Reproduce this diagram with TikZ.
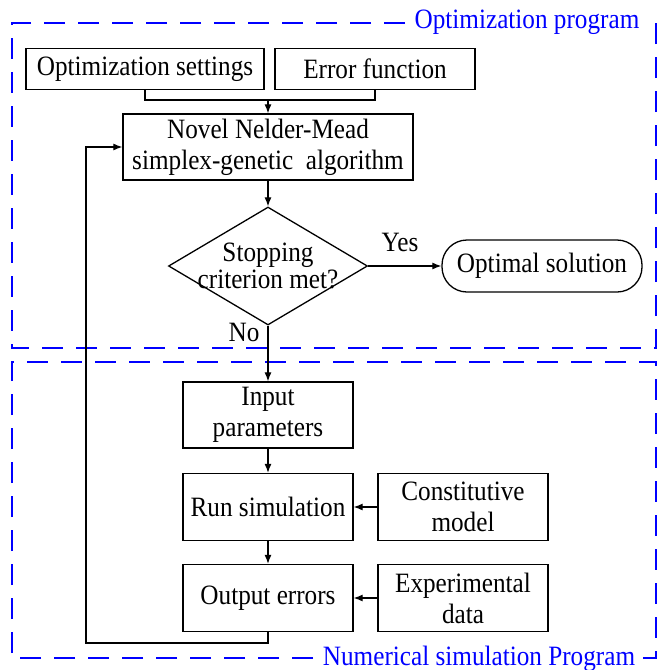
\documentclass[tikz,border=0pt]{standalone}
\usepackage{fontspec}
\setmainfont[FakeStretch=0.9]{Liberation Serif}
\usetikzlibrary{arrows.meta,shapes.geometric}
\tikzset{
  blk/.style={draw, line width=1.3pt, align=center, inner sep=2pt},
  frame/.style={blue, line width=2.8pt, dash pattern=on 21pt off 13pt},
  lnk/.style={line width=1.2pt, -{Latex[length=9pt,width=7pt]}},
  ln/.style={line width=1.2pt}
}

\begin{document}
\begin{tikzpicture}[x=1pt,y=-1pt,every node/.style={font=\fontsize{28}{31}\selectfont}]
\useasboundingbox (0,0) rectangle (660,670);
% dashed frames with their titles
\draw[frame] (405,23) -- (12,23) -- (12,348) -- (656,348) -- (656,23);
\node[blue, anchor=base] (opttitle) at (527,28) {Optimization program};
\draw[frame] (313,658) -- (12,658) -- (12,362) -- (656,362) -- (656,658) -- (643,658);
\node[blue, anchor=base] (numtitle) at (479,665) {Numerical simulation Program};
% optimization part
\node[blk, minimum width=238pt, minimum height=41pt] (settings) at (145,69) {Optimization settings};
\node[blk, minimum width=200pt, minimum height=41pt] (errfun) at (375,69) {Error function};
\node[blk, minimum width=290pt, minimum height=66pt] (novel) at (268,147) {Novel Nelder-Mead\\simplex-genetic\ \ algorithm};
\node[draw, line width=1.3pt, diamond, inner sep=0pt, minimum width=199pt, minimum height=118pt] (stop) at (268,266) {};
\node[align=center, font=\fontsize{28}{27}\selectfont] (stoptxt) at (stop.center) {Stopping\\criterion met?};
\node[blk, rounded corners=25pt, minimum width=200pt, minimum height=52pt] (optsol) at (542,266) {Optimal solution};
\node (yes) at (400,242) {Yes};
\node (no) at (244,332) {No};
% simulation part
\node[blk, minimum width=170pt, minimum height=66pt] (input) at (268,415) {Input\\parameters};
\node[blk, minimum width=170pt, minimum height=67pt] (run) at (268,507) {Run simulation};
\node[blk, minimum width=170pt, minimum height=67pt] (consti) at (463,507) {Constitutive\\model};
\node[blk, minimum width=170pt, minimum height=67pt] (output) at (268,598) {Output errors};
\node[blk, minimum width=170pt, minimum height=67pt] (expdata) at (463,598) {Experimental\\data};
% connectors
\coordinate (join) at (268,100);
\coordinate (back) at (86,643);
\draw[ln] (settings.south) |- (join) -| (errfun.south);
\draw[lnk] (join) -- (join |- novel.north);
\draw[lnk] (novel.south -| stop.north) -- (stop.north);
\draw[lnk] (stop.east) -- (optsol.west);
\draw[lnk] (stop.south) -- (input.north);
\draw[lnk] (input) -- (run);
\draw[lnk] (run) -- (output);
\draw[lnk] (consti) -- (run);
\draw[lnk] (expdata) -- (output);
\draw[lnk] (output.south) |- (back) |- (novel.west);
\end{tikzpicture}
\end{document}
